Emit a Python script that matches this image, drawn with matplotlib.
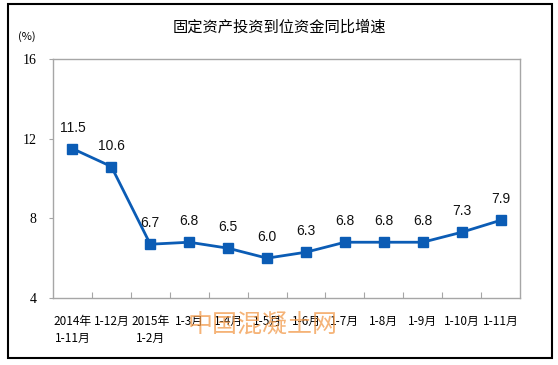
import matplotlib
matplotlib.use("Agg")
import matplotlib.pyplot as plt
from matplotlib.patches import Rectangle
import numpy as np

# data
categories = ["2014年\n1-11月", "1-12月", "2015年\n1-2月", "1-3月", "1-4月", "1-5月",
              "1-6月", "1-7月", "1-8月", "1-9月", "1-10月", "1-11月"]
growth = [11.5, 10.6, 6.7, 6.8, 6.5, 6.0, 6.3, 6.8, 6.8, 6.8, 7.3, 7.9]
y_ticks = [4, 8, 12, 16]

title = "固定资产投资到位资金同比增速"
unit = "(%)"
watermark = "中国混凝土网"

line_color = "#0B5CB5"
spine_color = "#A6A6A6"
cjk = ["Noto Sans CJK SC", "DejaVu Sans"]

fig = plt.figure(figsize=(5.58, 3.65), dpi=100)
ax = fig.add_axes([53 / 558, 1 - 298 / 365, 467 / 558, 239 / 365])

x = np.arange(len(growth))
ax.plot(x, growth, color=line_color, linewidth=2, marker="s", markersize=6.5,
        markerfacecolor=line_color, markeredgecolor=line_color)

for xi, v in zip(x, growth):
    ax.annotate(f"{v:.1f}", (xi, v), xytext=(0, 15), textcoords="offset points",
                ha="center", va="center", fontsize=10, family="Liberation Sans",
                color="#111111")

ax.set_xlim(-0.5, len(growth) - 0.5)
ax.set_ylim(y_ticks[0], y_ticks[-1])
ax.set_yticks(y_ticks)
ax.set_yticklabels([str(t) for t in y_ticks])
ax.tick_params(axis="y", direction="out", length=3, color=spine_color, pad=9,
               labelsize=10, labelfontfamily="Liberation Serif")

# category boundaries as inward ticks, labels at category centers
ax.set_xticks(np.arange(0.5, len(growth) - 1, 1.0))
ax.set_xticklabels([])
ax.tick_params(axis="x", which="major", direction="in", length=4, color=spine_color)
ax.set_xticks(x, minor=True)
ax.set_xticklabels(categories, minor=True, family=cjk, fontsize=8.5,
                   linespacing=1.45, va="top")
ax.tick_params(axis="x", which="minor", length=0, pad=12)

for s in ax.spines.values():
    s.set_color(spine_color)
    s.set_linewidth(1)

fig.text(0.5, 1 - 27 / 365, title, ha="center", va="center", fontsize=11,
         family=cjk)
fig.text(27 / 558, 1 - 37 / 365, unit, ha="center", va="center", fontsize=8,
         family=cjk)
# watermark sits over the category labels, as in the reference
fig.text(263 / 558, 1 - 326 / 365, watermark, ha="center", va="center",
         fontsize=18, family=cjk, color="#F29A4A", alpha=0.75)

fig.patches.append(Rectangle((8 / 558, 1 - 358 / 365), 544 / 558, 354 / 365,
                             transform=fig.transFigure, fill=False,
                             edgecolor="black", linewidth=1.5))

fig.savefig("out.png", dpi=100)
